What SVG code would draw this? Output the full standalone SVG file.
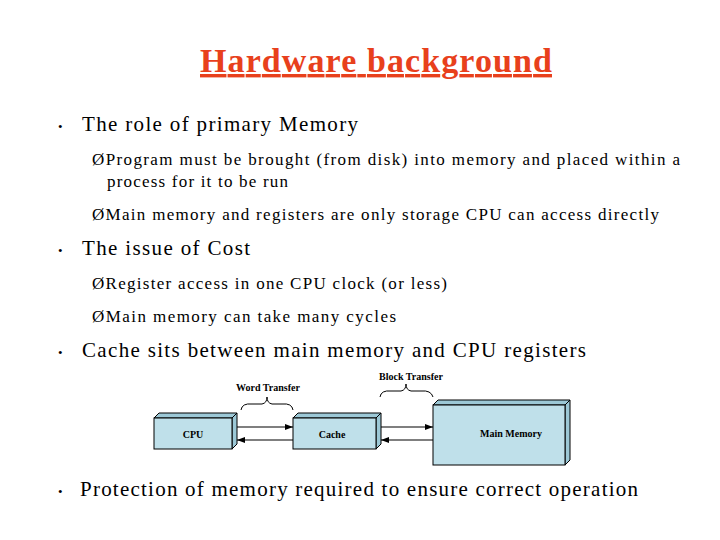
<svg xmlns="http://www.w3.org/2000/svg" width="720" height="540" viewBox="0 0 720 540">
<defs>
<style>
text{font-family:"Liberation Serif","Times New Roman",serif;fill:#000}
.b{fill:#bfe0ea;stroke:#000;stroke-width:1}
.s{fill:#9cc8d6;stroke:#000;stroke-width:1}
.l{font-weight:bold;font-size:10px}
.c{stroke:#000;stroke-width:1.2;fill:none}
.br{stroke:#000;stroke-width:1;fill:none}
</style>
<marker id="a" markerWidth="8" markerHeight="6" refX="8" refY="3" orient="auto" markerUnits="userSpaceOnUse"><path d="M0,0 L8,3 L0,6z"/></marker>
</defs>
<rect width="720" height="540" fill="#fff"/>
<text x="200" y="72" textLength="352" lengthAdjust="spacing" font-size="34" font-weight="bold" text-decoration="underline" style="fill:#e8401c">Hardware background</text>
<g>
<text x="58" y="131" font-size="13">•</text><text x="82" y="131" font-size="21" textLength="276" lengthAdjust="spacing">The role of primary Memory</text>
<text x="58" y="255" font-size="13">•</text><text x="82" y="255" font-size="21" textLength="168" lengthAdjust="spacing">The issue of Cost</text>
<text x="58" y="357" font-size="13">•</text><text x="82" y="357" font-size="21" textLength="504" lengthAdjust="spacing">Cache sits between main memory and CPU registers</text>
<text x="58" y="496" font-size="13">•</text><text x="80" y="496" font-size="21" textLength="558" lengthAdjust="spacing">Protection of memory required to ensure correct operation</text>
</g>
<g>
<text x="92" y="165" font-size="17" textLength="588" lengthAdjust="spacing">ØProgram must be brought (from disk)  into memory and placed within a</text>
<text x="107" y="187" font-size="17" textLength="181" lengthAdjust="spacing">process for it to be run</text>
<text x="92" y="220" font-size="17" textLength="567" lengthAdjust="spacing">ØMain memory and registers are only storage CPU can access directly</text>
<text x="92" y="289" font-size="17" textLength="355" lengthAdjust="spacing">ØRegister access in one CPU clock (or less)</text>
<text x="92" y="322" font-size="17" textLength="304" lengthAdjust="spacing">ØMain memory can take many cycles</text>
</g>
<g id="cpu"><polygon class="s" points="154,418 159,413 237,413 232,418"/><polygon class="s" points="232,418 237,413 237,444 232,449"/><rect class="b" x="154" y="418" width="78" height="31"/><text x="193" y="438" text-anchor="middle" class="l">CPU</text></g>
<g id="cache"><polygon class="s" points="293,418 298,413 381,413 376,418"/><polygon class="s" points="376,418 381,413 381,444 376,449"/><rect class="b" x="293" y="418" width="83" height="31"/><text x="332" y="438" text-anchor="middle" class="l">Cache</text></g>
<g id="mainmem"><polygon class="s" points="433,405 438,400 570,400 565,405"/><polygon class="s" points="565,405 570,400 570,460 565,465"/><rect class="b" x="433" y="405" width="132" height="60"/><text x="511" y="437" text-anchor="middle" class="l">Main Memory</text></g>
<g id="connectors">
<line class="c" x1="237" y1="427" x2="293" y2="427" marker-end="url(#a)"/>
<line class="c" x1="293" y1="440" x2="237" y2="440" marker-end="url(#a)"/>
<line class="c" x1="381" y1="427" x2="433" y2="427" marker-end="url(#a)"/>
<line class="c" x1="433" y1="440" x2="381" y2="440" marker-end="url(#a)"/>
<path class="br" d="M241,410 Q242,403 252,404 L262,404 Q267,403 267,397 Q267,403 272,404 L282,404 Q292,403 293,410"/>
<path class="br" d="M380,397 Q381,390 391,391 L401,391 Q406,390 406,384 Q406,390 411,391 L421,391 Q431,390 433,397"/>
<text x="268" y="391" text-anchor="middle" class="l">Word Transfer</text>
<text x="411" y="380" text-anchor="middle" class="l">Block Transfer</text>
</g>
</svg>
